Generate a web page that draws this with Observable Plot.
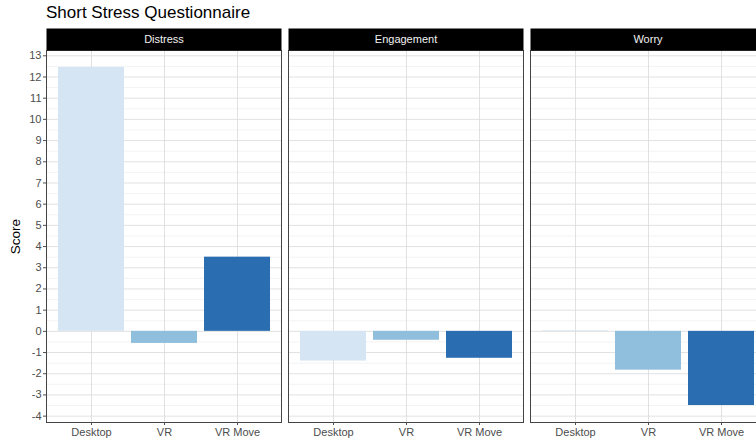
<!DOCTYPE html>
<html><head><meta charset="utf-8">
<script src="https://cdn.jsdelivr.net/npm/d3@7"></script>
<script src="https://cdn.jsdelivr.net/npm/@observablehq/plot@0.6"></script>
<style>
html,body{margin:0;padding:0;overflow:hidden;background:#fff;}
body{font-family:"Liberation Sans",Arial,sans-serif;width:756px;height:443px;}
#title{height:28px;line-height:25px;padding-left:46px;font-size:17px;color:#000;white-space:nowrap;}
#chart{width:756px;overflow:hidden;}
#chart svg{display:block;max-width:none !important;}
</style>
</head><body>
<div id="title">Short Stress Questionnaire</div>
<div id="chart"></div>
<script>
const panels = ["Distress", "Engagement", "Worry"];
const conditions = ["Desktop", "VR", "VR Move"];
const distress = [12.45, -0.57, 3.5];
const engagement = [-1.4, -0.42, -1.27];
const worry = [0.03, -1.83, -3.5];
const colors = ["#d5e5f4", "#90bedd", "#2a6db0"];
const yTicks = [-4, -3, -2, -1, 0, 1, 2, 3, 4, 5, 6, 7, 8, 9, 10, 11, 12, 13];
const yMinor = [-3.5, -2.5, -1.5, -0.5, 0.5, 1.5, 2.5, 3.5, 4.5, 5.5, 6.5, 7.5, 8.5, 9.5, 10.5, 11.5, 12.5];

const series = [distress, engagement, worry];
const rows = [];
panels.forEach((p, i) => conditions.forEach((c, j) => rows.push({panel: p, condition: c, score: series[i][j]})));

const W = 768, H = 415, mt = 22, mb = 21, ml = 46, mr = 3;
const panelH = H - mt - mb;

const chart = Plot.plot({
  width: W, height: H,
  marginTop: mt, marginBottom: mb, marginLeft: ml, marginRight: mr,
  style: {fontFamily: "Liberation Sans, Arial, sans-serif", fontSize: "11px", background: "#fff", maxWidth: "none"},
  fx: {domain: panels, axis: null, paddingInner: 7 / 242, paddingOuter: 0},
  x: {domain: conditions, paddingInner: 0.1, paddingOuter: 0.15},
  y: {domain: [-4.3, 13.25]},
  color: {domain: conditions, range: colors},
  marks: [
    Plot.ruleY(yMinor, {stroke: "#eeeeee", strokeWidth: 0.7}),
    Plot.ruleY(yTicks, {stroke: "#d9d9d9", strokeWidth: 0.8}),
    Plot.ruleX(conditions, {x: d => d, stroke: "#d9d9d9", strokeWidth: 0.8}),
    Plot.barY(rows, {fx: "panel", x: "condition", y: "score", fill: "condition"}),
    Plot.frame({stroke: "#444", strokeWidth: 1}),
    Plot.frame({fill: "black", stroke: null, insetTop: -mt, insetBottom: panelH}),
    Plot.text(panels, {fx: d => d, text: d => d, frameAnchor: "top", lineAnchor: "middle", dy: -11, fill: "#f2f2f2", fontSize: 11}),
    Plot.axisY(yTicks, {tickSize: 3, tickPadding: 2, color: "#4d4d4d", fontSize: 11, label: null, tickFormat: d => String(d)}),
    Plot.axisY({ticks: [], label: "Score", labelAnchor: "center", labelArrow: "none", labelOffset: 36, fontSize: 13.5, color: "#000"}),
    Plot.axisX({tickSize: 3, tickPadding: 3, color: "#4d4d4d", fontSize: 11, label: null})
  ]
});
document.getElementById("chart").appendChild(chart);
</script>
</body></html>
